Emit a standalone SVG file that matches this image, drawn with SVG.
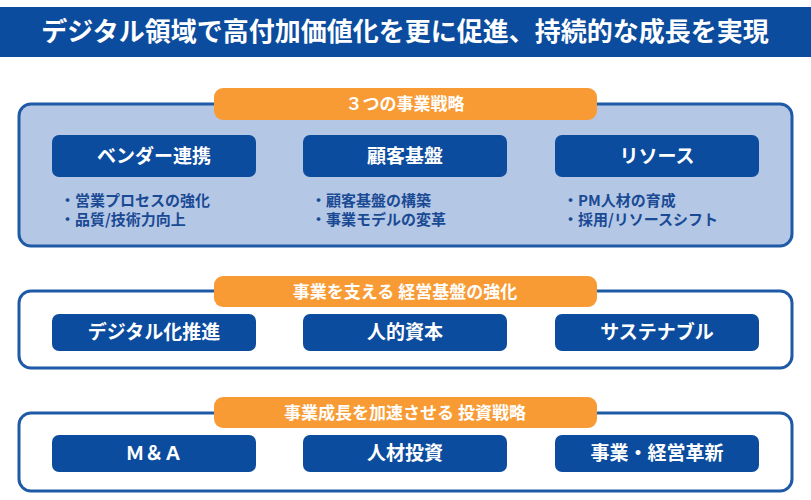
<svg xmlns="http://www.w3.org/2000/svg" width="811" height="500" viewBox="0 0 811 500">
<style>
text{font-family:"Noto Sans CJK JP","Noto Sans",sans-serif;font-weight:bold}
.frame{stroke:#1F5AA6;stroke-width:3}
.tab{fill:#F89B35}
.tt{fill:#fff;font-size:17px;text-anchor:middle}
.nb{fill:#0B4C9E}
.nt{fill:#fff;font-size:19px;text-anchor:middle}
.bt{fill:#1B4A94;font-size:15px}
</style>
<rect width="811" height="500" fill="#fff"/>
<g id="title"><rect x="0" y="7" width="811" height="50" fill="#0B4C9E"/>
<text x="405" y="41" fill="#fff" font-size="26" text-anchor="middle">デジタル領域で高付加価値化を更に促進、持続的な成長を実現</text></g>
<g id="sec1"><rect class="frame" x="19" y="104" width="773" height="142" rx="12" fill="#B4C8E6"/>
<rect class="tab" x="214" y="88" width="383" height="32" rx="9"/><text class="tt" x="405" y="110">３つの事業戦略</text></g>
<g id="n1"><rect class="nb" x="52" y="135" width="204" height="42" rx="7"/><text class="nt" x="154" y="163">ベンダー連携</text>
<text class="bt" x="60" y="206">・営業プロセスの強化</text><text class="bt" x="60" y="225">・品質/技術力向上</text></g>
<g id="n2"><rect class="nb" x="303" y="135" width="204" height="42" rx="7"/><text class="nt" x="405" y="163">顧客基盤</text>
<text class="bt" x="311" y="206">・顧客基盤の構築</text><text class="bt" x="311" y="225">・事業モデルの変革</text></g>
<g id="n3"><rect class="nb" x="555" y="135" width="204" height="42" rx="7"/><text class="nt" x="657" y="163">リソース</text>
<text class="bt" x="563" y="206">・PM人材の育成</text><text class="bt" x="563" y="225">・採用/リソースシフト</text></g>
<g id="sec2"><rect class="frame" x="19" y="291" width="773" height="77" rx="12" fill="#fff"/>
<rect class="tab" x="214" y="276" width="383" height="31" rx="9"/><text class="tt" x="405" y="298">事業を支える 経営基盤の強化</text></g>
<g id="n4"><rect class="nb" x="52" y="314" width="204" height="37" rx="7"/><text class="nt" x="154" y="339">デジタル化推進</text></g>
<g id="n5"><rect class="nb" x="303" y="314" width="204" height="37" rx="7"/><text class="nt" x="405" y="339">人的資本</text></g>
<g id="n6"><rect class="nb" x="555" y="314" width="204" height="37" rx="7"/><text class="nt" x="657" y="339">サステナブル</text></g>
<g id="sec3"><rect class="frame" x="19" y="413" width="773" height="78" rx="12" fill="#fff"/>
<rect class="tab" x="214" y="397" width="383" height="31" rx="9"/><text class="tt" x="405" y="419">事業成長を加速させる 投資戦略</text></g>
<g id="n7"><rect class="nb" x="52" y="435" width="204" height="37" rx="7"/><text class="nt" x="154" y="460">Ｍ＆Ａ</text></g>
<g id="n8"><rect class="nb" x="303" y="435" width="204" height="37" rx="7"/><text class="nt" x="405" y="460">人材投資</text></g>
<g id="n9"><rect class="nb" x="555" y="435" width="204" height="37" rx="7"/><text class="nt" x="657" y="460">事業・経営革新</text></g>
<g id="connectors"/>
</svg>
